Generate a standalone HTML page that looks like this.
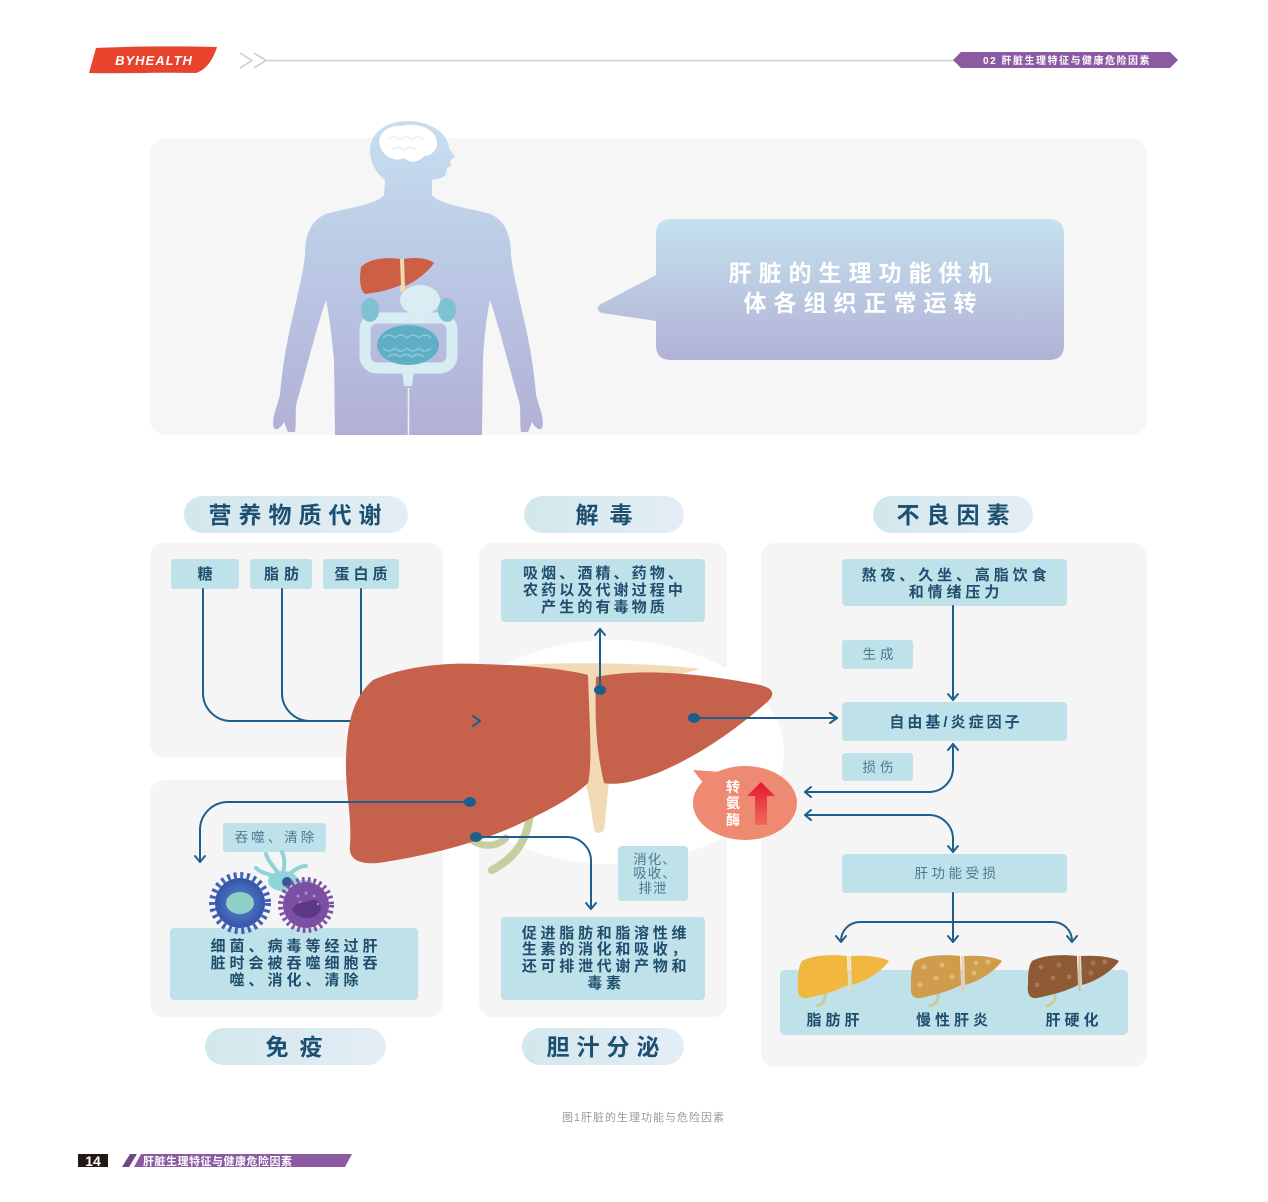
<!DOCTYPE html>
<html><head><meta charset="utf-8">
<style>
html,body{margin:0;padding:0;background:#fff;}
svg{display:block;}
text{font-family:"Liberation Sans","Noto Sans CJK SC",sans-serif;}
.t{font-size:23px;font-weight:700;fill:#1d4f70;text-anchor:middle;letter-spacing:7px;}
.b{font-size:15px;font-weight:700;fill:#1f4e6e;text-anchor:middle;}
.n{font-size:13.5px;fill:#4a7891;text-anchor:middle;}
.ln{fill:none;stroke:#1d5f8c;stroke-width:2;stroke-linecap:round;stroke-linejoin:round;}
.box{fill:#bfe1e9;}
.pnl{fill:#f5f5f6;}
</style></head>
<body>
<svg width="1268" height="1202" viewBox="0 0 1268 1202" xmlns="http://www.w3.org/2000/svg">
<defs>
<linearGradient id="fig" gradientUnits="userSpaceOnUse" x1="0" y1="120" x2="0" y2="435">
<stop offset="0" stop-color="#c7dff0"/><stop offset="0.5" stop-color="#bac7e4"/><stop offset="1" stop-color="#b2b0d5"/>
</linearGradient>
<linearGradient id="bub" gradientUnits="userSpaceOnUse" x1="0" y1="219" x2="0" y2="360">
<stop offset="0" stop-color="#c4e2ee"/><stop offset="1" stop-color="#b2b1d5"/>
</linearGradient>
<linearGradient id="pill" x1="0" y1="0" x2="1" y2="0">
<stop offset="0" stop-color="#d2e8ec"/><stop offset="1" stop-color="#e4edf6"/>
</linearGradient>
<linearGradient id="red" x1="0" y1="0" x2="0" y2="1">
<stop offset="0" stop-color="#e4172d"/><stop offset="1" stop-color="#ef6a5c"/>
</linearGradient>
<radialGradient id="blu" cx="0.5" cy="0.5" r="0.5">
<stop offset="0" stop-color="#5d8fd4"/><stop offset="1" stop-color="#3454a8"/>
</radialGradient>
</defs>

<!-- header -->
<path d="M96,48 C140,46 180,46 217,47 C213,60 206,70 196,73 C160,72 120,74 89,73 Z" fill="#e8432c"/>
<text x="154" y="65" style="font-size:13px;font-weight:700;font-style:italic;fill:#fff;text-anchor:middle;letter-spacing:1px">BYHEALTH</text>
<polyline points="240,53 252,60.5 240,68" fill="none" stroke="#cccccc" stroke-width="1.6"/>
<polyline points="254,53 266,60.5 254,68" fill="none" stroke="#cccccc" stroke-width="1.6"/>
<line x1="266" y1="60.5" x2="956" y2="60.5" stroke="#cfcfcf" stroke-width="1.5"/>
<polygon points="953,60 961,52 1170,52 1178,60 1170,68 961,68" fill="#8c5aa2"/>
<text x="1067" y="64" style="font-size:10px;font-weight:700;fill:#fff;text-anchor:middle;letter-spacing:1.5px">02 肝脏生理特征与健康危险因素</text>

<!-- top panel -->
<rect x="150" y="138" width="997" height="297" rx="16" fill="#f6f6f7"/>

<!-- human silhouette -->
<path fill="url(#fig)" d="M408,121 C430,121 448,133 449,148 L455,157 L450,160 L451,166 L447,168 L446,174 C444,178 438,179 432,180 L432,195
C440,205 470,208 490,214 C505,220 511,235 511,255 C514,280 520,300 524,320 C530,345 534,370 536,395
C540,410 545,420 542,428 C538,432 534,425 532,422 L528,432 L521,432 C519,420 522,408 518,398
C510,370 500,330 490,300 C486,320 484,340 483,360 L482,435 L335,435 L334,360 C332,340 330,320 326,300
C316,330 306,370 298,398 C294,408 297,420 295,432 L288,432 L284,422 C282,425 278,432 274,428 C271,420 276,410 280,395
C282,370 286,345 292,320 C296,300 302,280 305,255 C305,235 311,220 326,214 C346,208 376,205 384,195 L385,180
C375,172 370,162 370,150 C370,133 386,121 408,121 Z"/>
<line x1="408.5" y1="388" x2="408.5" y2="436" stroke="#eef0f6" stroke-width="1.5"/>
<!-- brain -->
<path d="M380,146 C376,134 388,125 402,126 C416,122 432,128 436,138 C440,148 432,156 424,156 C420,162 410,164 404,158 C396,162 384,158 380,146 Z" fill="#ffffff"/>
<path d="M388,140 q6,-6 12,0 q6,-6 12,0 q6,-6 12,0 M392,150 q6,-5 12,0 q6,-5 12,0" fill="none" stroke="#e3edf5" stroke-width="1.2"/>
<!-- organs -->
<rect x="365" y="318" width="87" height="50" rx="12" fill="none" stroke="#d8edf3" stroke-width="11"/>
<path d="M402,370 L414,370 L412,386 L404,386 Z" fill="#d8edf3"/>
<ellipse cx="420" cy="300" rx="20" ry="15" fill="#dcecf3"/>
<ellipse cx="370" cy="310" rx="9" ry="12" fill="#7cc2d3"/>
<ellipse cx="447" cy="310" rx="9" ry="12" fill="#7cc2d3"/>
<ellipse cx="408" cy="345" rx="31" ry="20" fill="#5eaec6"/>
<path d="M383,338 q6,-6 12,0 q6,-6 12,0 q6,-6 12,0 q6,-6 12,0 M383,348 q6,6 12,0 q6,6 12,0 q6,6 12,0 q6,6 12,0 M388,357 q6,-5 12,0 q6,-5 12,0 q6,-5 12,0" fill="none" stroke="#8dcadb" stroke-width="1.5"/>
<path d="M399,259 L404,259 L405,292 L400,292 Z" fill="#f2d9b5"/>
<path d="M361,267 C370,258 388,257 400,259 L401,285 C390,290 375,293 365,294 C360,290 359,280 361,267 Z" fill="#cd5f44"/>
<path d="M404,259 C415,257 428,258 434,263 C428,272 415,282 405,286 Z" fill="#cd5f44"/>

<!-- speech bubble -->
<path d="M671,219 H1049 Q1064,219 1064,234 V345 Q1064,360 1049,360 H671 Q656,360 656,345 V321 L602,313 Q594,309 601,304 L656,275 V234 Q656,219 671,219 Z" fill="url(#bub)"/>
<text x="863.5" y="281" style="font-size:23px;font-weight:700;fill:#fff;text-anchor:middle;letter-spacing:7px">肝脏的生理功能供机</text>
<text x="863.5" y="311" style="font-size:23px;font-weight:700;fill:#fff;text-anchor:middle;letter-spacing:7px">体各组织正常运转</text>

<!-- title pills -->
<rect x="184" y="496" width="224" height="37" rx="18.5" fill="url(#pill)"/>
<text class="t" x="298.5" y="523">营养物质代谢</text>
<rect x="524" y="496" width="160" height="37" rx="18.5" fill="url(#pill)"/>
<text class="t" x="609.5" y="523" style="letter-spacing:11px">解毒</text>
<rect x="873" y="496" width="160" height="37" rx="18.5" fill="url(#pill)"/>
<text class="t" x="956.5" y="523">不良因素</text>
<rect x="205" y="1028" width="181" height="37" rx="18.5" fill="url(#pill)"/>
<text class="t" x="299.5" y="1055" style="letter-spacing:11px">免疫</text>
<rect x="522" y="1028" width="162" height="37" rx="18.5" fill="url(#pill)"/>
<text class="t" x="606.5" y="1055">胆汁分泌</text>

<!-- panels -->
<rect class="pnl" x="150" y="543" width="293" height="214" rx="14"/>
<rect class="pnl" x="150" y="780" width="293" height="237" rx="14"/>
<rect class="pnl" x="479" y="543" width="248" height="474" rx="14"/>
<rect class="pnl" x="761" y="543" width="386" height="524" rx="14"/>
<ellipse cx="612" cy="752" rx="172" ry="112" fill="#ffffff"/>

<!-- nutrient boxes -->
<rect class="box" x="171" y="559" width="68" height="30" rx="3"/>
<text class="b" x="205" y="579">糖</text>
<rect class="box" x="250" y="559" width="62" height="30" rx="3"/>
<text class="b" x="284" y="579" style="letter-spacing:5px">脂肪</text>
<rect class="box" x="323" y="559" width="76" height="30" rx="3"/>
<text class="b" x="363" y="579" style="letter-spacing:4px">蛋白质</text>

<!-- detox box -->
<rect class="box" x="501" y="559" width="204" height="63" rx="4"/>
<text class="b" x="604.5" y="578" style="letter-spacing:3.1px">吸烟、酒精、药物、</text>
<text class="b" x="604.5" y="595" style="letter-spacing:3.1px">农药以及代谢过程中</text>
<text class="b" x="604.5" y="612" style="letter-spacing:3.1px">产生的有毒物质</text>

<!-- right panel boxes -->
<rect class="box" x="842" y="559" width="225" height="47" rx="4"/>
<text class="b" x="956" y="580" style="letter-spacing:3.9px">熬夜、久坐、高脂饮食</text>
<text class="b" x="956" y="597" style="letter-spacing:3.9px">和情绪压力</text>
<rect class="box" x="842" y="640" width="71" height="29" rx="3"/>
<text class="n" x="880" y="659" style="letter-spacing:4px">生成</text>
<rect class="box" x="842" y="702" width="225" height="39" rx="4"/>
<text class="b" x="956" y="727" style="letter-spacing:3px">自由基/炎症因子</text>
<rect class="box" x="842" y="753" width="71" height="28" rx="3"/>
<text class="n" x="880" y="772" style="letter-spacing:4px">损伤</text>
<rect class="box" x="842" y="854" width="225" height="39" rx="4"/>
<text class="n" x="957" y="878" style="letter-spacing:3.5px">肝功能受损</text>
<rect class="box" x="780" y="970" width="348" height="65" rx="5"/>

<!-- immune boxes -->
<rect class="box" x="223" y="823" width="103" height="29" rx="3"/>
<text class="n" x="276" y="842" style="letter-spacing:3px">吞噬、清除</text>
<rect class="box" x="170" y="928" width="248" height="72" rx="4"/>
<text class="b" x="296" y="951" style="letter-spacing:4px">细菌、病毒等经过肝</text>
<text class="b" x="296" y="968" style="letter-spacing:4px">脏时会被吞噬细胞吞</text>
<text class="b" x="296" y="985" style="letter-spacing:4px">噬、消化、清除</text>

<!-- bile boxes -->
<rect class="box" x="618" y="846" width="70" height="55" rx="4"/>
<text class="n" x="655" y="864" style="letter-spacing:1px">消化、</text>
<text class="n" x="655" y="878" style="letter-spacing:1px">吸收、</text>
<text class="n" x="653" y="893" style="letter-spacing:1px">排泄</text>
<rect class="box" x="501" y="917" width="204" height="83" rx="4"/>
<text class="b" x="606" y="938" style="letter-spacing:3.7px">促进脂肪和脂溶性维</text>
<text class="b" x="606" y="954" style="letter-spacing:3.7px">生素的消化和吸收，</text>
<text class="b" x="606" y="971" style="letter-spacing:3.7px">还可排泄代谢产物和</text>
<text class="b" x="606" y="988" style="letter-spacing:3.7px">毒素</text>

<!-- nutrient connectors -->
<path class="ln" d="M203,589 V693 A28,28 0 0 0 231,721 H479"/>
<path class="ln" d="M282,589 V693 A28,28 0 0 0 310,721"/>
<path class="ln" d="M361,589 V693 A28,28 0 0 0 389,721"/>

<!-- big liver -->
<path d="M510,666 C545,662 650,662 700,669 L612,692 L609,780 C607,800 606,815 604,830 Q598,836 594,830 C592,815 590,800 586,785 L583,690 Z" fill="#f3dab6"/>
<path d="M468,836 C478,848 496,848 506,838" fill="none" stroke="#c7cd9f" stroke-width="7" stroke-linecap="round"/>
<path d="M530,812 C528,840 515,858 492,870" fill="none" stroke="#c7cd9f" stroke-width="8" stroke-linecap="round"/>
<path d="M373,680 C400,668 440,662 480,664 C520,665 560,668 588,675 L590,730 C591,760 590,775 588,783 C570,800 545,812 515,826 C480,842 430,855 385,862 C360,866 348,860 350,845 C352,815 345,790 346,760 C347,730 350,700 373,680 Z" fill="#c6624b"/>
<path d="M596,677 C640,668 700,673 760,685 C776,689 775,696 765,704 C735,730 700,755 660,772 C640,780 620,786 604,783 C599,760 594,735 596,677 Z" fill="#c6624b"/>

<!-- liver connectors -->
<path class="ln" d="M600,690 V629"/>
<polyline class="ln" points="595,635 600,629 605,635"/>
<ellipse cx="600" cy="690" rx="6" ry="5" fill="#1d5f8c"/>
<path class="ln" d="M694,718 H837"/>
<polyline class="ln" points="830,713 837,718 830,723"/>
<ellipse cx="694" cy="718" rx="6" ry="5" fill="#1d5f8c"/>
<polyline class="ln" points="473,716 480,721 473,726"/>
<path class="ln" d="M470,802 H228 A28,28 0 0 0 200,830 V862"/>
<polyline class="ln" points="195,856 200,862 205,856"/>
<ellipse cx="470" cy="802" rx="6" ry="5" fill="#1d5f8c"/>
<path class="ln" d="M476,837 H567 A24,24 0 0 1 591,861 V909"/>
<polyline class="ln" points="586,903 591,909 596,903"/>
<ellipse cx="476" cy="837" rx="6" ry="5" fill="#1d5f8c"/>

<!-- right connectors -->
<path class="ln" d="M953,606 V700"/>
<polyline class="ln" points="948,694 953,700 958,694"/>
<path class="ln" d="M953,744 V768 A24,24 0 0 1 929,792 H805"/>
<polyline class="ln" points="948,750 953,744 958,750"/>
<polyline class="ln" points="811,787 805,792 811,797"/>
<path class="ln" d="M805,815 H929 A24,24 0 0 1 953,839 V852"/>
<polyline class="ln" points="811,810 805,815 811,820"/>
<polyline class="ln" points="948,846 953,852 958,846"/>
<path class="ln" d="M953,893 V942"/>
<path class="ln" d="M841,941 A19,19 0 0 1 860,922 H1053 A19,19 0 0 1 1072,941"/>
<polyline class="ln" points="836,936 841,942 846,936"/>
<polyline class="ln" points="948,936 953,942 958,936"/>
<polyline class="ln" points="1067,936 1072,942 1077,936"/>

<!-- transaminase bubble -->
<path d="M704,784 L693,770 L722,772 Z" fill="#ee8a72"/>
<ellipse cx="745" cy="803" rx="52" ry="37" fill="#ee8a72"/>
<text x="733" y="792" style="font-size:14px;font-weight:700;fill:#fff;text-anchor:middle">转</text>
<text x="733" y="808" style="font-size:14px;font-weight:700;fill:#fff;text-anchor:middle">氨</text>
<text x="733" y="825" style="font-size:14px;font-weight:700;fill:#fff;text-anchor:middle">酶</text>
<path d="M755,825 V796 H747 L761,782 L775,796 H767 V825 Z" fill="url(#red)"/>

<!-- immune cells -->
<g stroke="#8fd3d6" stroke-width="4" stroke-linecap="round" fill="none">
<path d="M282,880 C272,874 262,874 256,868"/>
<path d="M282,880 C276,868 268,862 266,854"/>
<path d="M282,880 C284,868 286,860 282,852"/>
<path d="M282,880 C292,872 298,866 306,866"/>
<path d="M282,880 C294,880 302,884 310,882"/>
<path d="M282,880 C290,888 292,894 298,898"/>
</g>
<ellipse cx="283" cy="881" rx="15" ry="10" fill="#8fd3d6"/>
<circle cx="287" cy="882" r="5" fill="#3b51a3"/>
<circle cx="240" cy="903" r="25" fill="url(#blu)"/>
<circle cx="240" cy="903" r="28" fill="none" stroke="#3e62b4" stroke-width="6" stroke-dasharray="3 3.6"/>
<ellipse cx="240" cy="903" rx="14" ry="11" fill="#8fd0c8"/>
<circle cx="306" cy="905" r="23" fill="#7d4fa3"/>
<circle cx="306" cy="905" r="25.5" fill="none" stroke="#7d4fa3" stroke-width="5" stroke-dasharray="2.6 3.2"/>
<path d="M292,910 C296,900 306,904 312,900 C320,898 324,908 318,914 C312,920 298,920 292,910 Z" fill="#5b3786"/>
<g fill="#a98bc9"><circle cx="298" cy="896" r="1.5"/><circle cx="306" cy="893" r="1.5"/><circle cx="314" cy="896" r="1.5"/><circle cx="300" cy="902" r="1.2"/><circle cx="318" cy="904" r="1.2"/></g>

<!-- small livers -->
<g transform="translate(797,953)">
<path d="M28,40 C29,47 26,51 20,53" fill="none" stroke="#c7cd9f" stroke-width="3" stroke-linecap="round"/>
<path d="M5,8 C15,2 35,1 50,3 L51,32 C40,38 25,42 10,45 C2,46 0,40 1,32 C1,22 1,14 5,8 Z" fill="#f2b73f"/>
<path d="M54,3 C70,2 85,4 92,8 C85,18 70,28 55,32 Z" fill="#f2b73f"/>
<path d="M52.5,3 V38" stroke="#f6d9a8" stroke-width="2"/>
</g>
<g transform="translate(910,953)">
<path d="M28,40 C29,47 26,51 20,53" fill="none" stroke="#c7cd9f" stroke-width="3" stroke-linecap="round"/>
<path d="M5,8 C15,2 35,1 50,3 L51,32 C40,38 25,42 10,45 C2,46 0,40 1,32 C1,22 1,14 5,8 Z" fill="#cf9c4b"/>
<path d="M54,3 C70,2 85,4 92,8 C85,18 70,28 55,32 Z" fill="#cf9c4b"/>
<path d="M52.5,3 V38" stroke="#f0c9a0" stroke-width="2"/>
<g fill="#deb87c"><circle cx="14" cy="14" r="2.5"/><circle cx="32" cy="12" r="2.5"/><circle cx="26" cy="25" r="2.5"/><circle cx="10" cy="32" r="2.5"/><circle cx="42" cy="24" r="2.5"/><circle cx="66" cy="10" r="2.5"/><circle cx="78" cy="9" r="2.5"/><circle cx="64" cy="20" r="2.5"/></g>
</g>
<g transform="translate(1027,953)">
<path d="M28,40 C29,47 26,51 20,53" fill="none" stroke="#c7cd9f" stroke-width="3" stroke-linecap="round"/>
<path d="M5,8 C15,2 35,1 50,3 L51,32 C40,38 25,42 10,45 C2,46 0,40 1,32 C1,22 1,14 5,8 Z" fill="#8e5a36"/>
<path d="M54,3 C70,2 85,4 92,8 C85,18 70,28 55,32 Z" fill="#8e5a36"/>
<path d="M52.5,3 V38" stroke="#d8b890" stroke-width="2"/>
<g fill="#a87a52"><circle cx="14" cy="14" r="2.5"/><circle cx="32" cy="12" r="2.5"/><circle cx="26" cy="25" r="2.5"/><circle cx="10" cy="32" r="2.5"/><circle cx="42" cy="24" r="2.5"/><circle cx="66" cy="10" r="2.5"/><circle cx="78" cy="9" r="2.5"/><circle cx="64" cy="20" r="2.5"/></g>
</g>
<text class="b" x="835" y="1025" style="letter-spacing:4px">脂肪肝</text>
<text class="b" x="954" y="1025" style="letter-spacing:4px">慢性肝炎</text>
<text class="b" x="1074" y="1025" style="letter-spacing:4px">肝硬化</text>

<!-- caption -->
<text x="643.5" y="1121" style="font-size:11px;fill:#9a9a9a;text-anchor:middle;letter-spacing:1px">图1肝脏的生理功能与危险因素</text>

<!-- footer -->
<rect x="78" y="1154" width="30" height="13" fill="#231815"/>
<text x="93" y="1166" style="font-size:14px;font-weight:700;fill:#fff;text-anchor:middle">14</text>
<polygon points="122,1167 129,1167 137,1154 130,1154" fill="#6e4a82"/>
<polygon points="134,1167 345,1167 352,1154 141,1154" fill="#8c5aa2"/>
<text x="143" y="1165" style="font-size:11px;font-weight:700;fill:#fff;letter-spacing:0.5px">肝脏生理特征与健康危险因素</text>
</svg>
</body></html>
